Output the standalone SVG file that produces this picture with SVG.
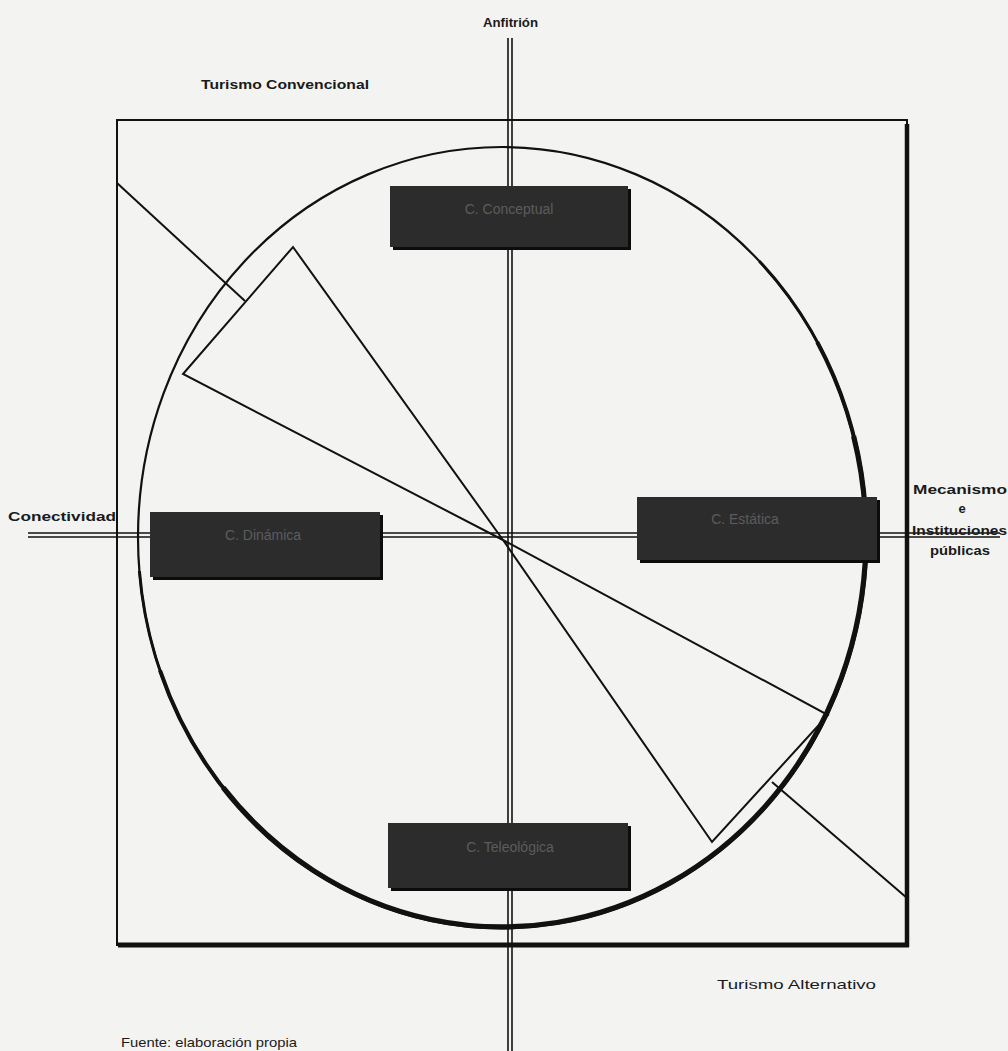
<svg xmlns="http://www.w3.org/2000/svg" width="1008" height="1051" viewBox="0 0 1008 1051">
<style>
.t{font-family:"Liberation Sans",Arial,sans-serif;fill:#1a1a1a;font-size:13px}
.b{font-weight:bold}
.bt{font-family:"Liberation Sans",Arial,sans-serif;fill:#5c5c5c;font-size:14px;text-anchor:middle}
.ln{stroke:#111;fill:none}
.box{fill:#2c2c2c}
.sh{fill:#0c0c0c}
</style>
<rect width="1008" height="1051" fill="#f3f3f1"/>
<g id="frame">
<rect x="117" y="120" width="790" height="825" class="ln" stroke-width="2"/>
<line x1="907" y1="124" x2="907" y2="947" class="ln" stroke-width="4.5"/>
<line x1="118" y1="945" x2="909" y2="945" class="ln" stroke-width="5"/>
</g>
<g id="circle">
<ellipse cx="502" cy="537" rx="364" ry="390" class="ln" stroke-width="2.2"/>
<path d="M 759.4 261.2 A 364 390 0 1 1 139.4 571" class="ln" stroke-width="3"/>
<path d="M 817.2 342 A 364 390 0 1 1 160 670.4" class="ln" stroke-width="4"/>
<path d="M 853.6 436.1 A 364 390 0 0 1 223.2 787.7" class="ln" stroke-width="5.2"/>
</g>
<g id="connectors">
<line x1="508" y1="38" x2="508" y2="1051" class="ln" stroke-width="1.6"/>
<line x1="512" y1="38" x2="512" y2="1051" class="ln" stroke-width="1.6"/>
<line x1="28" y1="533" x2="1000" y2="533" class="ln" stroke-width="1.6"/>
<line x1="28" y1="537" x2="1000" y2="537" class="ln" stroke-width="1.6"/>
<line x1="117" y1="183" x2="245" y2="301" class="ln" stroke-width="2"/>
<line x1="772" y1="782" x2="907" y2="898" class="ln" stroke-width="2"/>
</g>
<g id="bowtie">
<polygon points="503,540 293,247 183,374" fill="none" class="ln" stroke-width="2"/>
<polygon points="503,540 828,715 712,842" fill="none" class="ln" stroke-width="2"/>
</g>
<g id="conceptual">
<rect x="393" y="189" width="238" height="61" class="sh"/>
<rect x="390" y="186" width="238" height="61" class="box"/>
<text x="509" y="214" class="bt">C. Conceptual</text>
</g>
<g id="dinamica">
<rect x="153" y="515" width="230" height="65" class="sh"/>
<rect x="150" y="512" width="230" height="65" class="box"/>
<text x="263" y="540" class="bt">C. Dinámica</text>
</g>
<g id="estatica">
<rect x="640" y="500" width="240" height="63" class="sh"/>
<rect x="637" y="497" width="240" height="63" class="box"/>
<text x="745" y="524" class="bt">C. Estática</text>
</g>
<g id="teleologica">
<rect x="391" y="826" width="240" height="65" class="sh"/>
<rect x="388" y="823" width="240" height="65" class="box"/>
<text x="510" y="852" class="bt">C. Teleológica</text>
</g>
<g id="labels">
<text x="483" y="27" class="t b" font-size="12" textLength="55" lengthAdjust="spacingAndGlyphs">Anfitrión</text>
<text x="201" y="89" class="t b" font-size="12" textLength="168" lengthAdjust="spacingAndGlyphs">Turismo Convencional</text>
<text x="8" y="521" class="t b" font-size="14" textLength="108" lengthAdjust="spacingAndGlyphs">Conectividad</text>
<text x="913" y="494" class="t b" font-size="13" textLength="94" lengthAdjust="spacingAndGlyphs">Mecanismo</text>
<text x="962" y="513" class="t b" font-size="13" text-anchor="middle">e</text>
<text x="912" y="535" class="t b" font-size="13" textLength="95" lengthAdjust="spacingAndGlyphs">Instituciones</text>
<text x="930" y="555" class="t b" font-size="13" textLength="60" lengthAdjust="spacingAndGlyphs">públicas</text>
<text x="717" y="989" class="t" textLength="159" lengthAdjust="spacingAndGlyphs">Turismo Alternativo</text>
<text x="121" y="1047" class="t" textLength="176" lengthAdjust="spacingAndGlyphs">Fuente: elaboración propia</text>
</g>
</svg>
